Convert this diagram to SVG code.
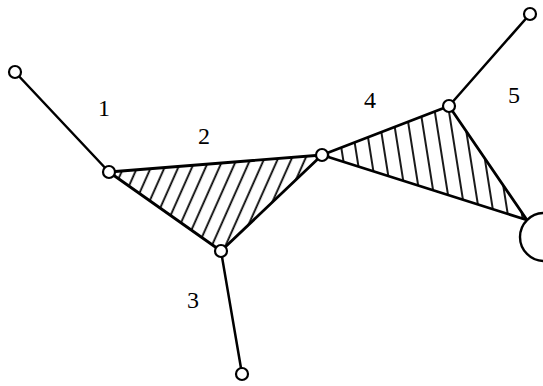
<svg xmlns="http://www.w3.org/2000/svg" width="543" height="386" viewBox="0 0 543 386">
<style>
.edge{stroke:#000;stroke-width:2.5;fill:none;stroke-linecap:round}
.tri{stroke:#000;stroke-width:2.8;stroke-linejoin:round}
.node{fill:#fff;stroke:#000;stroke-width:2.2}
.lbl{font-family:"Liberation Serif","DejaVu Serif",serif;font-size:24px;fill:#000;text-anchor:middle}
</style>
<defs>
<pattern id="h1" width="12.5" height="12.5" patternUnits="userSpaceOnUse" patternTransform="rotate(24)">
<line x1="6" y1="-2" x2="6" y2="15" stroke="#000" stroke-width="1.8"/>
</pattern>
<pattern id="h2" width="14" height="14" patternUnits="userSpaceOnUse" patternTransform="rotate(-9)">
<line x1="6" y1="-2" x2="6" y2="16" stroke="#000" stroke-width="1.8"/>
</pattern>
</defs>
<g id="connectors">
<line class="edge" x1="15" y1="72" x2="109" y2="172"/>
<line class="edge" x1="221" y1="251" x2="242" y2="374"/>
<line class="edge" x1="449" y1="106" x2="530" y2="14"/>
</g>
<g id="face1"><polygon class="tri" fill="url(#h1)" points="109,172 322,155 221,251"/></g>
<g id="face2"><polygon class="tri" fill="url(#h2)" points="322,155 449,106 527,220"/></g>
<g id="bigcircle"><circle cx="544" cy="237" r="24" fill="#fff" stroke="#000" stroke-width="2.4"/></g>
<g id="n1"><circle class="node" cx="15" cy="72" r="6"/></g>
<g id="n2"><circle class="node" cx="109" cy="172" r="6"/></g>
<g id="n3"><circle class="node" cx="322" cy="155" r="6"/></g>
<g id="n4"><circle class="node" cx="221" cy="251" r="6"/></g>
<g id="n5"><circle class="node" cx="242" cy="374" r="6"/></g>
<g id="n6"><circle class="node" cx="449" cy="106" r="6"/></g>
<g id="n7"><circle class="node" cx="530" cy="14" r="6"/></g>
<g id="labels">
<text class="lbl" x="104" y="116">1</text>
<text class="lbl" x="204" y="144">2</text>
<text class="lbl" x="193" y="308">3</text>
<text class="lbl" x="370" y="108">4</text>
<text class="lbl" x="514" y="103">5</text>
</g>
</svg>
